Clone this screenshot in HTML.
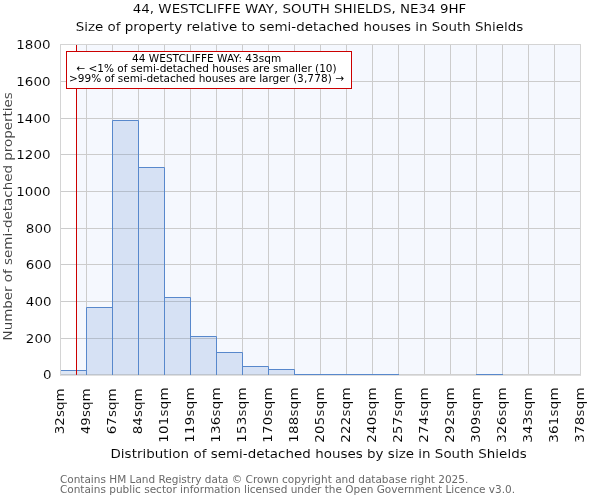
<!DOCTYPE html>
<html><head><meta charset="utf-8"><title>chart</title>
<style>html,body{margin:0;padding:0;background:#fff}svg{display:block;will-change:transform}text{font-family:"DejaVu Sans","Liberation Sans",sans-serif}text.b{stroke:#fff;stroke-width:0.08px;paint-order:fill stroke}</style></head><body>
<svg width="600" height="500" viewBox="0 0 600 500">
<rect width="600" height="500" fill="#fff"/>
<rect x="76.5" y="44.5" width="504.0" height="330.33" fill="#f5f8fe"/>
<path d="M60.5 44.5V374.83M86.5 44.5V374.83M112.5 44.5V374.83M138.5 44.5V374.83M164.5 44.5V374.83M190.5 44.5V374.83M216.5 44.5V374.83M242.5 44.5V374.83M268.5 44.5V374.83M294.5 44.5V374.83M320.5 44.5V374.83M346.5 44.5V374.83M372.5 44.5V374.83M398.5 44.5V374.83M424.5 44.5V374.83M450.5 44.5V374.83M476.5 44.5V374.83M502.5 44.5V374.83M528.5 44.5V374.83M554.5 44.5V374.83M580.5 44.5V374.83M60.5 374.5H580.5M60.5 338.5H580.5M60.5 301.5H580.5M60.5 264.5H580.5M60.5 228.5H580.5M60.5 191.5H580.5M60.5 154.5H580.5M60.5 118.5H580.5M60.5 81.5H580.5M60.5 44.5H580.5" stroke="#cccccc" stroke-width="1" fill="none"/>
<path d="M60.0 375.09999999999997H581.0" fill="none" stroke="#d4d4d4" stroke-width="1.1"/>
<path d="M60.5 370.5H86.5V374.83H60.5ZM86.5 307.5H112.5V374.83H86.5ZM112.5 120.5H138.5V374.83H112.5ZM138.5 167.5H164.5V374.83H138.5ZM164.5 297.5H190.5V374.83H164.5ZM190.5 336.5H216.5V374.83H190.5ZM216.5 352.5H242.5V374.83H216.5ZM242.5 366.5H268.5V374.83H242.5ZM268.5 369.5H294.5V374.83H268.5Z" fill="#5888cc" fill-opacity="0.2" stroke="none"/>
<path d="M60.5 374.83V370.5H86.5V374.83M86.5 374.83V307.5H112.5V374.83M112.5 374.83V120.5H138.5V374.83M138.5 374.83V167.5H164.5V374.83M164.5 374.83V297.5H190.5V374.83M190.5 374.83V336.5H216.5V374.83M216.5 374.83V352.5H242.5V374.83M242.5 374.83V366.5H268.5V374.83M268.5 374.83V369.5H294.5V374.83M294.0 374.5H321.0M320.0 374.5H347.0M346.0 374.5H373.0M372.0 374.5H399.0M476.0 374.5H503.0" fill="none" stroke="#5888cc" stroke-width="1" stroke-linejoin="miter"/>
<path d="M60.5 375.33V44.5H580.5V375.33" fill="none" stroke="#d4d4d4" stroke-width="1"/>
<path d="M76.5 45.0V374.83" stroke="#cc0000" stroke-width="1" fill="none"/>
<rect x="66.5" y="51.5" width="285" height="37" fill="#fff" stroke="#cc0000" stroke-width="1"/>
<text transform="translate(206.60 61.60)" font-size="10.5" fill="#000" text-anchor="middle" textLength="149.3" lengthAdjust="spacing">44 WESTCLIFFE WAY: 43sqm</text>
<text transform="translate(206.50 71.70)" font-size="10.5" fill="#000" text-anchor="middle">← &lt;1% of semi-detached houses are smaller (10)</text>
<text transform="translate(69.10 81.80)" font-size="10.5" fill="#000" text-anchor="start" textLength="220.8" lengthAdjust="spacing">&gt;99% of semi-detached houses are larger</text>
<text transform="translate(292.90 81.80)" font-size="10.5" fill="#000" text-anchor="start" textLength="51.3" lengthAdjust="spacing">(3,778) →</text>
<text class="b" transform="translate(299.50 12.80) scale(1 0.915)" font-size="13.44" fill="#000" text-anchor="middle">44, WESTCLIFFE WAY, SOUTH SHIELDS, NE34 9HF</text>
<text class="b" transform="translate(299.50 30.60) scale(1 0.915)" font-size="13.44" fill="#000" text-anchor="middle">Size of property relative to semi-detached houses in South Shields</text>
<text class="b" transform="translate(318.60 457.70) scale(1 0.915)" font-size="13.44" fill="#000" text-anchor="middle" textLength="416.2" lengthAdjust="spacing">Distribution of semi-detached houses by size in South Shields</text>
<text class="b" transform="translate(51.50 378.85) scale(1 0.915)" font-size="13.44" fill="#000" text-anchor="end">0</text>
<text class="b" transform="translate(51.50 342.85) scale(1 0.915)" font-size="13.44" fill="#000" text-anchor="end">200</text>
<text class="b" transform="translate(51.50 305.85) scale(1 0.915)" font-size="13.44" fill="#000" text-anchor="end">400</text>
<text class="b" transform="translate(51.50 268.85) scale(1 0.915)" font-size="13.44" fill="#000" text-anchor="end">600</text>
<text class="b" transform="translate(51.50 232.85) scale(1 0.915)" font-size="13.44" fill="#000" text-anchor="end">800</text>
<text class="b" transform="translate(50.50 195.85) scale(1 0.915)" font-size="13.44" fill="#000" text-anchor="end">1000</text>
<text class="b" transform="translate(50.50 158.85) scale(1 0.915)" font-size="13.44" fill="#000" text-anchor="end">1200</text>
<text class="b" transform="translate(50.50 122.85) scale(1 0.915)" font-size="13.44" fill="#000" text-anchor="end">1400</text>
<text class="b" transform="translate(50.50 85.85) scale(1 0.915)" font-size="13.44" fill="#000" text-anchor="end">1600</text>
<text class="b" transform="translate(50.50 48.85) scale(1 0.915)" font-size="13.44" fill="#000" text-anchor="end">1800</text>
<text class="b" transform="translate(64.20 388.50) rotate(-90) scale(1 0.915)" font-size="13.44" fill="#000" text-anchor="end">32sqm</text>
<text class="b" transform="translate(90.20 388.50) rotate(-90) scale(1 0.915)" font-size="13.44" fill="#000" text-anchor="end">49sqm</text>
<text class="b" transform="translate(116.20 388.50) rotate(-90) scale(1 0.915)" font-size="13.44" fill="#000" text-anchor="end">67sqm</text>
<text class="b" transform="translate(142.20 388.50) rotate(-90) scale(1 0.915)" font-size="13.44" fill="#000" text-anchor="end">84sqm</text>
<text class="b" transform="translate(168.20 387.50) rotate(-90) scale(1 0.915)" font-size="13.44" fill="#000" text-anchor="end" textLength="55.25" lengthAdjust="spacing">101sqm</text>
<text class="b" transform="translate(194.20 387.50) rotate(-90) scale(1 0.915)" font-size="13.44" fill="#000" text-anchor="end" textLength="55.25" lengthAdjust="spacing">119sqm</text>
<text class="b" transform="translate(220.20 387.50) rotate(-90) scale(1 0.915)" font-size="13.44" fill="#000" text-anchor="end" textLength="55.25" lengthAdjust="spacing">136sqm</text>
<text class="b" transform="translate(246.20 387.50) rotate(-90) scale(1 0.915)" font-size="13.44" fill="#000" text-anchor="end" textLength="55.25" lengthAdjust="spacing">153sqm</text>
<text class="b" transform="translate(272.20 387.50) rotate(-90) scale(1 0.915)" font-size="13.44" fill="#000" text-anchor="end" textLength="55.25" lengthAdjust="spacing">170sqm</text>
<text class="b" transform="translate(298.20 387.50) rotate(-90) scale(1 0.915)" font-size="13.44" fill="#000" text-anchor="end" textLength="55.25" lengthAdjust="spacing">188sqm</text>
<text class="b" transform="translate(324.20 387.50) rotate(-90) scale(1 0.915)" font-size="13.44" fill="#000" text-anchor="end" textLength="55.25" lengthAdjust="spacing">205sqm</text>
<text class="b" transform="translate(350.20 387.50) rotate(-90) scale(1 0.915)" font-size="13.44" fill="#000" text-anchor="end" textLength="55.25" lengthAdjust="spacing">222sqm</text>
<text class="b" transform="translate(376.20 387.50) rotate(-90) scale(1 0.915)" font-size="13.44" fill="#000" text-anchor="end" textLength="55.25" lengthAdjust="spacing">240sqm</text>
<text class="b" transform="translate(402.20 387.50) rotate(-90) scale(1 0.915)" font-size="13.44" fill="#000" text-anchor="end" textLength="55.25" lengthAdjust="spacing">257sqm</text>
<text class="b" transform="translate(428.20 387.50) rotate(-90) scale(1 0.915)" font-size="13.44" fill="#000" text-anchor="end" textLength="55.25" lengthAdjust="spacing">274sqm</text>
<text class="b" transform="translate(454.20 387.50) rotate(-90) scale(1 0.915)" font-size="13.44" fill="#000" text-anchor="end" textLength="55.25" lengthAdjust="spacing">292sqm</text>
<text class="b" transform="translate(480.20 387.50) rotate(-90) scale(1 0.915)" font-size="13.44" fill="#000" text-anchor="end" textLength="55.25" lengthAdjust="spacing">309sqm</text>
<text class="b" transform="translate(506.20 387.50) rotate(-90) scale(1 0.915)" font-size="13.44" fill="#000" text-anchor="end" textLength="55.25" lengthAdjust="spacing">326sqm</text>
<text class="b" transform="translate(532.20 387.50) rotate(-90) scale(1 0.915)" font-size="13.44" fill="#000" text-anchor="end" textLength="55.25" lengthAdjust="spacing">343sqm</text>
<text class="b" transform="translate(558.20 387.50) rotate(-90) scale(1 0.915)" font-size="13.44" fill="#000" text-anchor="end" textLength="55.25" lengthAdjust="spacing">361sqm</text>
<text class="b" transform="translate(584.20 387.50) rotate(-90) scale(1 0.915)" font-size="13.44" fill="#000" text-anchor="end" textLength="55.25" lengthAdjust="spacing">378sqm</text>
<text class="b" transform="translate(11.60 216.30) rotate(-90) scale(1 0.915)" font-size="13.44" fill="#3c3c3c" text-anchor="middle">Number of semi-detached properties</text>
<text transform="translate(59.90 482.90)" font-size="10.51" fill="#696969" text-anchor="start">Contains HM Land Registry data © Crown copyright and database right 2025.</text>
<text transform="translate(59.90 493.10)" font-size="10.51" fill="#696969" text-anchor="start">Contains public sector information licensed under the Open Government Licence v3.0.</text>
</svg></body></html>
